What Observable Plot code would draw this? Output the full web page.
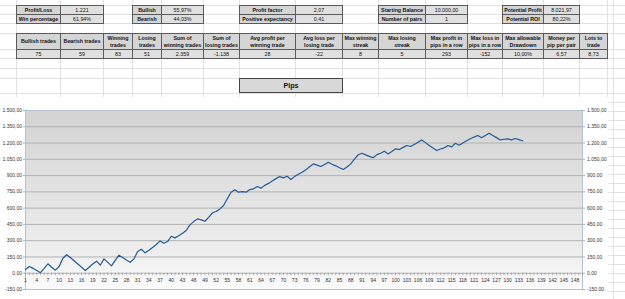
<!DOCTYPE html>
<html><head><meta charset="utf-8">
<script src="https://cdn.jsdelivr.net/npm/d3@7"></script>
<script src="https://cdn.jsdelivr.net/npm/@observablehq/plot@0.6"></script>
<style>
html,body{margin:0;padding:0;background:#fff;}
#page{position:relative;width:625px;height:299px;overflow:hidden;font-family:"Liberation Sans",Arial,sans-serif;background:#fff;}
.gl{position:absolute;background:#e2e2e2;}
.c{position:absolute;box-sizing:border-box;border:1px solid #5a5a5a;display:flex;align-items:center;justify-content:center;text-align:center;font-size:5.3px;line-height:1.25;color:#111;white-space:nowrap;}
.lab{background:#d5d5d5;font-weight:bold;}
.val{background:#e0e0e0;}
.ttl{background:#d8d8d8;font-weight:bold;font-size:7.2px;border-color:#444;}
#chart{position:absolute;left:0;top:97px;}
</style></head><body><div id="page"></div>
<script>
// ---- data ----
const profitLabels = ["Profit/Loss", "Win percentage"];
const profitValues = ["1.221", "61,94%"];
const biasLabels = ["Bullish", "Bearish"];
const biasValues = ["55,97%", "44,03%"];
const factorLabels = ["Profit factor", "Positive expectancy"];
const factorValues = ["2,07", "0,41"];
const balanceLabels = ["Starting Balance", "Number of pairs"];
const balanceValues = ["10.000,00", "1"];
const potentialLabels = ["Potential Profit", "Potential ROI"];
const potentialValues = ["8.021,97", "80,22%"];
const statHeaders = ["Bullish trades", "Bearish trades", "Winning<br>trades", "Losing<br>trades",
  "Sum of<br>winning trades", "Sum of<br>losing trades", "Avg profit per<br>winning trade",
  "Avg loss per<br>losing trade", "Max winning<br>streak", "Max losing<br>streak",
  "Max profit in<br>pips in a row", "Max loss in<br>pips in a row", "Max allowable<br>Drawdown",
  "Money per<br>pip per pair", "Lots to<br>trade"];
const statValues = ["75", "59", "83", "51", "2.359", "-1.138", "28", "-22", "8", "5", "293", "-152", "10,00%", "6,57", "8,73"];
const chartTitle = "Pips";
const yTicks = [-150, 0, 150, 300, 450, 600, 750, 900, 1050, 1200, 1350, 1500];
const xTickLabels = [1,4,7,10,13,16,19,22,25,28,31,34,37,40,43,46,49,52,55,58,61,64,67,70,73,76,79,82,85,88,91,94,97,100,103,106,109,112,115,118,121,124,127,130,133,136,139,142,145,148];
const xCategoryCount = 150;
const pips = [34,62,45,25,5,45,87,55,28,62,138,170,145,115,85,55,25,55,85,111,
  74,132,100,68,118,166,145,122,101,132,200,221,188,212,238,265,298,277,292,341,
  326,346,368,394,446,476,501,492,479,515,557,569,593,624,688,747,769,747,752,747,
  771,778,799,784,810,828,851,872,891,879,894,864,893,912,930,953,982,1008,996,984,
  1003,1023,1005,990,972,956,980,1008,1052,1092,1106,1091,1077,1064,1093,1106,1125,1100,1122,1147,
  1140,1160,1177,1168,1186,1208,1229,1204,1178,1154,1131,1145,1155,1177,1165,1198,1180,1200,1221,1239,
  1255,1269,1248,1270,1290,1270,1250,1229,1235,1239,1229,1242,1232,1221];

// ---- layout ----
const page = document.getElementById("page");
const colEdges = [16, 60, 103, 132, 161, 203, 239, 295, 342, 378, 425, 467, 502, 543, 579, 607];
const rowEdges = [5, 14, 23, 33, 49, 58, 67.5, 77.5, 93];

function el(cls, x, y, w, h, html) {
  const d = document.createElement("div");
  d.className = cls;
  Object.assign(d.style, {left: x + "px", top: y + "px", width: w + "px", height: h + "px"});
  if (html != null) d.innerHTML = html;
  page.appendChild(d);
  return d;
}
// sheet gridlines
for (const x of colEdges) el("gl", x, 0, 1, 97);
el("gl", 613, 0, 1, 299);
for (const y of rowEdges) el("gl", 0, y, 625, 1);
for (let y = 102; y < 299; y += 9) el("gl", 608, y, 17, 1);

function pairTable(ci, labels, values) {
  const x0 = colEdges[ci], x1 = colEdges[ci + 1], x2 = colEdges[ci + 2];
  labels.forEach((l, r) => {
    const y = rowEdges[r], h = rowEdges[r + 1] - y + 1;
    el("c lab", x0, y, x1 - x0 + 1, h, l);
    el("c val", x1, y, x2 - x1 + 1, h, values[r]);
  });
}
pairTable(0, profitLabels, profitValues);
pairTable(3, biasLabels, biasValues);
pairTable(6, factorLabels, factorValues);
pairTable(9, balanceLabels, balanceValues);
pairTable(12, potentialLabels, potentialValues);

statHeaders.forEach((h, i) => {
  const x0 = colEdges[i], x1 = colEdges[i + 1];
  el("c lab", x0, rowEdges[3], x1 - x0 + 1, rowEdges[4] - rowEdges[3] + 1, h);
  el("c val", x0, rowEdges[4], x1 - x0 + 1, rowEdges[5] - rowEdges[4] + 1, statValues[i]);
});
el("c ttl", colEdges[6], 78, colEdges[8] - colEdges[6] + 1, 15, chartTitle);

// ---- chart ----
const loc = d3.formatLocale({decimal: ",", thousands: ".", grouping: [3], currency: ["", ""], minus: "-"});
const fmt = loc.format(",.2f");
const series = pips.map((v, i) => ({trade: i + 1, pips: v}));
const categories = d3.range(1, xCategoryCount + 1);

const chart = Plot.plot({
  width: 608, height: 202,
  marginLeft: 25, marginRight: 26, marginTop: 13, marginBottom: 10,
  style: {background: "transparent", fontFamily: "Liberation Sans, Arial, sans-serif", fontSize: "5px", color: "#333", overflow: "visible"},
  x: {type: "linear", domain: [1, xCategoryCount], axis: null},
  y: {domain: [-150, 1500], axis: null},
  marks: [
    Plot.frame({fill: "url(#plotBg)", stroke: null}),
    Plot.ruleY(yTicks, {stroke: "#b2b2b2", strokeWidth: 1}),
    Plot.frame({stroke: "#b3c2d2", strokeWidth: 1}),
    Plot.ruleX(categories, {x: d => d, y1: 0, y2: 0, insetBottom: -2.5, stroke: "#8a8a8a", strokeWidth: 0.6}),
    Plot.text(xTickLabels, {x: d => d, y: 0, dy: 7, text: d => String(d), fill: "#333", fontSize: 5}),
    Plot.axisY({anchor: "left", label: null, ticks: yTicks, tickFormat: fmt, tickSize: 2, tickPadding: 1.5, stroke: "#9fb0c2", fill: "#333", fontSize: 5}),
    Plot.axisY({anchor: "right", label: null, ticks: yTicks, tickFormat: fmt, tickSize: 2, tickPadding: 2.5, stroke: "#9fb0c2", fill: "#333", fontSize: 5}),
    Plot.line(series, {x: "trade", y: "pips", stroke: "#235a97", strokeWidth: 1.2})
  ]
});
const ns = "http://www.w3.org/2000/svg";
const defs = document.createElementNS(ns, "defs");
defs.innerHTML = '<linearGradient id="plotBg" x1="0" y1="0" x2="0" y2="1">' +
  '<stop offset="0" stop-color="#d3d3d3"/><stop offset="0.8" stop-color="#eeeeee"/><stop offset="1" stop-color="#fbfbfb"/></linearGradient>';
chart.insertBefore(defs, chart.firstChild);
const wrap = document.createElement("div");
wrap.id = "chart";
wrap.style.background = "#fff";
wrap.appendChild(chart);
page.appendChild(wrap);
</script></body></html>
